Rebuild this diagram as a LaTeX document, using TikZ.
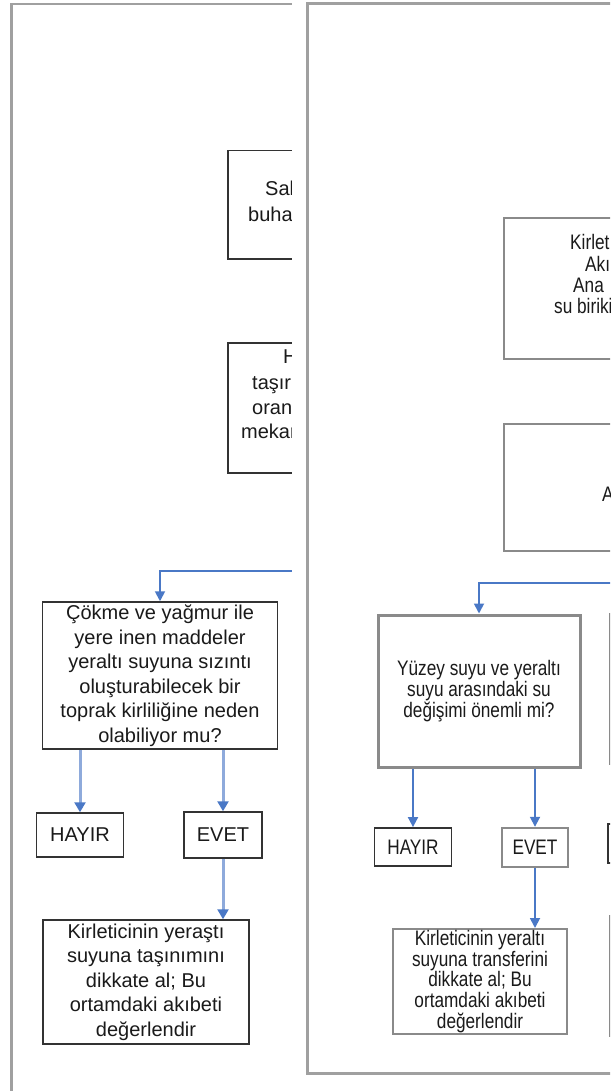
\documentclass[tikz,border=0pt]{standalone}
\usepackage{fontspec}
\setmainfont{Liberation Sans}
\newfontfamily\widefont{Liberation Sans}
\newfontfamily\narrowfont[FakeStretch=0.82]{Liberation Sans}
\usetikzlibrary{arrows.meta}

\definecolor{pageframe}{HTML}{A0A0A0}
\definecolor{flowblue}{HTML}{4A78C6}
\definecolor{flowpale}{HTML}{8EAADB}
\definecolor{darkedge}{HTML}{333333}
\definecolor{grayedge}{HTML}{8A8A8A}
\definecolor{inktext}{HTML}{1A1A1A}

\tikzset{
  pageline/.style={draw=pageframe, line width=2.6pt},
  lbox/.style={draw=darkedge, line width=1.5pt, inner sep=0pt, align=center,
    text=inktext, font=\widefont\fontsize{20}{24.5}\selectfont},
  rbox/.style={draw=grayedge, line width=2.4pt, inner sep=0pt, align=center,
    text=inktext, font=\narrowfont\fontsize{21}{20.8}\selectfont},
  rboxdark/.style={rbox, draw=darkedge, line width=1.8pt},
  ltext/.style={inner sep=0pt, anchor=base west, text=inktext,
    font=\widefont\fontsize{20}{24.5}\selectfont},
  rtext/.style={inner sep=0pt, anchor=base west, text=inktext,
    font=\narrowfont\fontsize{21}{20.8}\selectfont},
  paleflow/.style={draw=flowpale, line width=3pt,
    -{Triangle[width=11pt,length=10pt,color=flowblue]}},
  flow/.style={draw=flowblue, line width=1.8pt,
    -{Triangle[width=10pt,length=10pt,color=flowblue]}},
}

\begin{document}
\begin{tikzpicture}[x=1pt, y=-1pt]
\useasboundingbox (0,0) rectangle (610,1091);
\fill[white] (0,0) rectangle (610,1091);

% ---------- first sheet (partly covered by the second) ----------
\begin{scope}
  \clip (0,0) rectangle (292,1091);
  \draw[pageline] (11.5,1200) -- (11.5,4) -- (400,4);

  \node[lbox, anchor=north west, minimum width=180pt, minimum height=108pt] (lb1) at (227,150) {};
  \node[ltext] (lb1a) at (265,196) {Sal};
  \node[ltext] (lb1b) at (248,222) {buha};

  \node[lbox, anchor=north west, minimum width=180pt, minimum height=130pt] (lb2) at (227,342) {};
  \node[ltext] (lb2a) at (283,363) {H};
  \node[ltext] (lb2b) at (252,389) {taşır};
  \node[ltext] (lb2c) at (252,414) {oran};
  \node[ltext] (lb2d) at (241,438) {mekar};

  \node[lbox, minimum width=235pt, minimum height=147pt] (q1) at (160,675.5)
    {Çökme ve yağmur ile\\yere inen maddeler\\yeraltı suyuna sızıntı\\oluşturabilecek bir\\toprak kirliliğine neden\\olabiliyor mu?};

  \node[lbox, minimum width=87pt, minimum height=44pt] (noL) at (80,835) {HAYIR};
  \node[lbox, minimum width=78pt, minimum height=46pt] (yesL) at (223,835) {EVET};

  \node[lbox, minimum width=206pt, minimum height=124pt] (resL) at (146,982)
    {Kirleticinin yeraştı\\suyuna taşınımını\\dikkate al; Bu\\ortamdaki akıbeti\\değerlendir};

  \coordinate (inL) at (300,571);
  \draw[flow] (inL) -| (q1.north);
  \draw[paleflow] (q1.south -| noL.north) -- (noL.north);
  \draw[paleflow] (q1.south -| yesL.north) -- (yesL.north);
  \draw[paleflow] (yesL.south) -- (resL.north -| yesL.south);
\end{scope}

% ---------- second sheet, lying on top ----------
\fill[white] (292,0) rectangle (610,1091);
\begin{scope}
  \clip (292,0) rectangle (610,1091);
  \draw[pageline, line width=3pt] (307,4) rectangle (720,1073);

  \node[rbox, anchor=north west, minimum width=200pt, minimum height=141pt] (rb1) at (503,217) {};
  \node[rtext] (rb1a) at (570,250) {Kirlet};
  \node[rtext] (rb1b) at (585,271) {Akı};
  \node[rtext] (rb1c) at (573,292) {Ana};
  \node[rtext] (rb1d) at (554,313) {su biriki};

  \node[rbox, anchor=north west, minimum width=200pt, minimum height=127pt] (rb2) at (503,423) {};
  \node[rtext] (rb2a) at (602,501) {A};

  \node[rbox, line width=3pt, minimum width=202pt, minimum height=152pt] (q2) at (479,691)
    {Yüzey suyu ve yeraltı\\suyu arasındaki su\\değişimi önemli mi?};

  \node[rboxdark, minimum width=77pt, minimum height=38pt] (noR) at (413,847) {HAYIR};
  \node[rbox, minimum width=66pt, minimum height=39pt] (yesR) at (535,847.5) {EVET};

  \node[rbox, line width=2pt, minimum width=174pt, minimum height=105pt] (resR) at (480,981.5)
    {Kirleticinin yeraltı\\suyuna transferini\\dikkate al; Bu\\ortamdaki akıbeti\\değerlendir};

  % neighbouring column, only its left edges show
  \node[rbox, line width=2pt, anchor=north west, minimum width=200pt, minimum height=150pt] (q3) at (609,613) {};
  \node[rboxdark, anchor=north west, minimum width=80pt, minimum height=39pt] (noR3) at (607,823) {};
  \node[rbox, line width=2pt, anchor=north west, minimum width=200pt, minimum height=120pt] (resR3) at (609,915) {};

  \coordinate (inR) at (620,583);
  \draw[flow] (inR) -| (q2.north);
  \draw[flow] (q2.south -| noR.north) -- (noR.north);
  \draw[flow] (q2.south -| yesR.north) -- (yesR.north);
  \draw[flow] (yesR.south) -- (resR.north -| yesR.south);
\end{scope}
\end{tikzpicture}
\end{document}
